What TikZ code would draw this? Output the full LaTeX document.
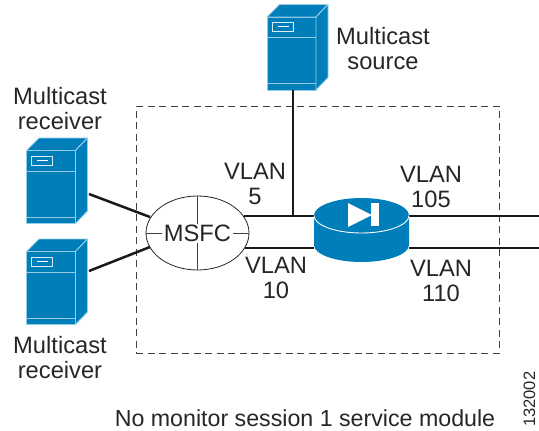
\documentclass[tikz,border=0pt]{standalone}
\usepackage{fontspec}
\setmainfont{Liberation Sans}
\usetikzlibrary{shapes.geometric}
\definecolor{ciscoblue}{RGB}{0,126,186}
\definecolor{ciscolight}{RGB}{150,205,230}
\tikzset{
  x=1pt,y=-1pt,
  lab/.style={font=\fontsize{23.7}{25}\selectfont,text=black!85,align=center,inner sep=0pt},
  wire/.style={line width=2.5pt,draw=black!90},
  thin wire/.style={line width=0.9pt,draw=black!75},
  srvline/.style={draw=ciscolight,line width=0.9pt},
  front/.style={fill=ciscoblue,srvline,minimum width=49pt,minimum height=73pt,inner sep=0pt,outer sep=0pt},
}
\newcommand{\srvbox}[3]{%
  \node[front] (#1) at (#2,#3) {};
  \begin{scope}[shift={(#2,#3)}]
    \filldraw[fill=ciscoblue,srvline,line join=round] (-24.5,-36.5) -- (-12,-49) -- (36.5,-49) -- (24.5,-36.5) -- cycle;
    \filldraw[fill=ciscoblue,srvline,line join=round] (24.5,-36.5) -- (36.5,-49) -- (36.5,24) -- (24.5,36.5) -- cycle;
    \draw[srvline] (-24.5,-16) -- (24.5,-16);
    \draw[srvline] (-24.5,30) -- (24.5,30);
    \draw[draw=white!85!ciscoblue,line width=0.9pt] (-19.5,-31) rectangle (1.5,-22);
    \draw[draw=white,line width=0.8pt] (-14,-27) -- (-3,-27);
  \end{scope}}
\begin{document}
\begin{tikzpicture}
\useasboundingbox (0,0) rectangle (539,431);
% dashed service-module box
\node[draw=black!75,dashed,dash pattern=on 7pt off 4.5pt,line width=0.8pt,minimum width=363pt,minimum height=247pt,inner sep=0pt] (module) at (317.5,229.5) {};
% servers
\srvbox{src}{291.5}{53.5}
\srvbox{rxa}{51}{187}
\srvbox{rxb}{51}{288}
% free ends and junctions
\coordinate (junction) at (293,216);
\coordinate (srcfoot) at (293,90);
\coordinate (rxaside) at (89,194);
\coordinate (rxbside) at (89,271);
\coordinate (rxaend) at (150,217);
\coordinate (rxbend) at (150,247);
\coordinate (east105) at (539,216);
\coordinate (east110) at (539,248);
% router
\node[minimum width=95pt,minimum height=64pt,inner sep=0pt] (router) at (361.5,230) {};
% MSFC
\node[ellipse,draw=black!85,fill=white,line width=0.8pt,minimum width=103pt,minimum height=74pt,inner sep=0pt] (msfc) at (197.5,233) {};
% wires
\draw[wire] (srcfoot) -- (junction);
\draw[wire] (rxaside) -- (rxaend);
\draw[wire] (rxbside) -- (rxbend);
\draw[wire] (244,216) -- (router.west |- junction);
\draw[wire] (245,248) -- (router.west |- east110);
\draw[wire] (router.east |- east105) -- (east105);
\draw[wire] (router.east |- east110) -- (east110);
% MSFC cross
\draw[thin wire] (msfc.north) -- (msfc.south);
\draw[thin wire] (msfc.west) -- (msfc.east);
\node[fill=white,inner sep=1.5pt,font=\fontsize{23.7}{25}\selectfont,text=black!85] (msfctext) at (197.5,233.5) {MSFC};
% router body
\fill[ciscoblue] (314,215.5) -- (314,245) arc[x radius=47.5,y radius=17,start angle=180,end angle=0] -- (409,215.5) -- cycle;
\fill[ciscoblue] (361.5,215.5) ellipse[x radius=47.5,y radius=17.5];
\draw[white,line width=0.9pt] (314,215.5) arc[x radius=47.5,y radius=17.5,start angle=180,end angle=0];
\fill[white] (348,203) -- (348,227) -- (372,215) -- cycle;
\fill[white] (371,203) rectangle (379,226);
% labels
\node[lab] (tsrc) at (383,49) {Multicast\\source};
\node[lab] (trxa) at (60,108.5) {Multicast\\receiver};
\node[lab] (trxb) at (60,357.5) {Multicast\\receiver};
\node[lab] (v5) at (255,184) {VLAN\\5};
\node[lab] (v10) at (276,278) {VLAN\\10};
\node[lab] (v105) at (431,187) {VLAN\\105};
\node[lab] (v110) at (441,281) {VLAN\\110};
\node[anchor=base,inner sep=0pt,text=black!85,font=\fontsize{23.2}{25}\selectfont] (cap) at (305,426) {No monitor session 1 service module};
\node[rotate=90,anchor=base west,font=\fontsize{16.5}{19}\selectfont,text=black!85,inner sep=0pt] (ref) at (535,427) {132002};
\end{tikzpicture}
\end{document}
